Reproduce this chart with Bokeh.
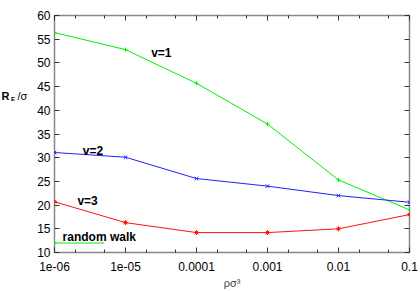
from bokeh.plotting import figure
from bokeh.layouts import row
from bokeh.models import FixedTicker, LogAxis, LinearAxis, Label, Range1d
from bokeh.embed import file_html
from bokeh.resources import INLINE

rho = [1e-6, 1e-5, 1e-4, 1e-3, 1e-2, 1e-1]
v1 = [56.4, 52.8, 45.7, 37.1, 25.3, 19.0]
v2 = [31.1, 30.1, 25.6, 24.0, 22.0, 20.6]
v3 = [20.7, 16.3, 14.2, 14.2, 15.0, 18.0]
rw_x = [1e-6, 5e-6]
rw_y = [12.0, 12.0]

x_ticks = [1e-6, 1e-5, 1e-4, 1e-3, 1e-2, 1e-1]
x_tick_labels = ["1e-06", "1e-05", "0.0001", "0.001", "0.01", "0.1"]
x_minor = [m * 10.0 ** e for e in range(-6, -1) for m in (2, 5)]
y_ticks = [10, 15, 20, 25, 30, 35, 40, 45, 50, 55, 60]

FONT = "Liberation Sans"
GREEN = "#00ee00"
BLUE = "#2020ff"
RED = "#ff1010"
LW = 30  # width of the strip holding the y-axis title

p = figure(width=420 - LW, height=291, x_axis_type="log",
           x_range=Range1d(1e-6, 0.1), y_range=Range1d(10, 60),
           output_backend="svg", toolbar_location=None,
           min_border_left=54 - LW, min_border_right=11,
           min_border_top=15, min_border_bottom=36)
p.xgrid.visible = False
p.ygrid.visible = False
p.outline_line_color = "#888888"
p.outline_line_width = 1.5

xt = FixedTicker(ticks=x_ticks, minor_ticks=x_minor)
yt = FixedTicker(ticks=y_ticks, minor_ticks=[])

for ax in p.xaxis:
    ax.ticker = xt
    ax.major_label_overrides = {t: l for t, l in zip(x_ticks, x_tick_labels)}
    ax.axis_label = "ρσ³"
    ax.axis_label_text_font = FONT
    ax.axis_label_text_font_style = "normal"
    ax.axis_label_text_font_size = "11px"
    ax.axis_label_standoff = 3
for ax in p.yaxis:
    ax.ticker = yt
for ax in list(p.xaxis) + list(p.yaxis):
    ax.axis_line_color = None
    ax.major_tick_in = 5
    ax.major_tick_out = 0
    ax.minor_tick_in = 3
    ax.minor_tick_out = 0
    ax.major_tick_line_color = "#333333"
    ax.minor_tick_line_color = "#333333"
    ax.major_label_text_font = FONT
    ax.major_label_text_font_size = "12px"
    ax.major_label_text_color = "black"
for ax in p.yaxis:
    ax.major_label_standoff = 4
for ax in p.xaxis:
    ax.major_label_standoff = 9

top = LogAxis(ticker=xt, axis_line_color=None, major_tick_in=5, major_tick_out=0,
              minor_tick_in=3, minor_tick_out=0, major_label_text_font_size="1px",
              major_label_text_color=None,
              major_tick_line_color="#333333", minor_tick_line_color="#333333",
              major_label_standoff=0)
right = LinearAxis(ticker=yt, axis_line_color=None, major_tick_in=5, major_tick_out=0,
                   major_label_text_font_size="1px", major_label_text_color=None,
                   major_tick_line_color="#333333", major_label_standoff=0)
p.add_layout(top, "above")
p.add_layout(right, "right")

p.line(rho, v1, line_color=GREEN, line_width=1)
p.scatter(rho, v1, marker="cross", size=4, line_color=GREEN)
p.line(rho, v2, line_color=BLUE, line_width=1)
p.scatter(rho, v2, marker="x", size=5, line_color=BLUE)
p.line(rho, v3, line_color=RED, line_width=1)
p.scatter(rho, v3, marker="asterisk", size=5, line_color=RED)
p.line(rw_x, rw_y, line_color=GREEN, line_width=1)
p.scatter(rw_x[:1], rw_y[:1], marker="cross", size=4, line_color=GREEN)

def lab(fig, x, y, t, size="12px", style="bold", baseline="middle", **kw):
    fig.add_layout(Label(x=x, y=y, text=t, text_font=FONT, text_font_size=size,
                         text_font_style=style, text_color="black",
                         text_baseline=baseline, text_align="left", **kw))

lab(p, 2.3e-5, 52.1, "v=1")
lab(p, 2.5e-6, 31.5, "v=2")
lab(p, 2.1e-6, 20.8, "v=3")
lab(p, 1.3e-6, 13.2, "random walk")

# narrow strip on the left that holds the horizontal y-axis title R_E /sigma
t = figure(width=LW, height=291, x_range=Range1d(0, LW), y_range=Range1d(291, 0),
           output_backend="svg", toolbar_location=None,
           x_axis_location=None, y_axis_location=None,
           min_border=0, min_border_left=0, min_border_right=0,
           min_border_top=0, min_border_bottom=0)
t.xgrid.visible = False
t.ygrid.visible = False
t.outline_line_color = None
lab(t, 1, 99, "R", size="11px", baseline="alphabetic")
lab(t, 10.5, 102, "E", size="6px", baseline="alphabetic")
lab(t, 17, 99, "/σ", size="11px", style="normal", baseline="alphabetic")

layout = row(t, p, spacing=0)
open("out.html", "w").write(file_html(layout, INLINE))
